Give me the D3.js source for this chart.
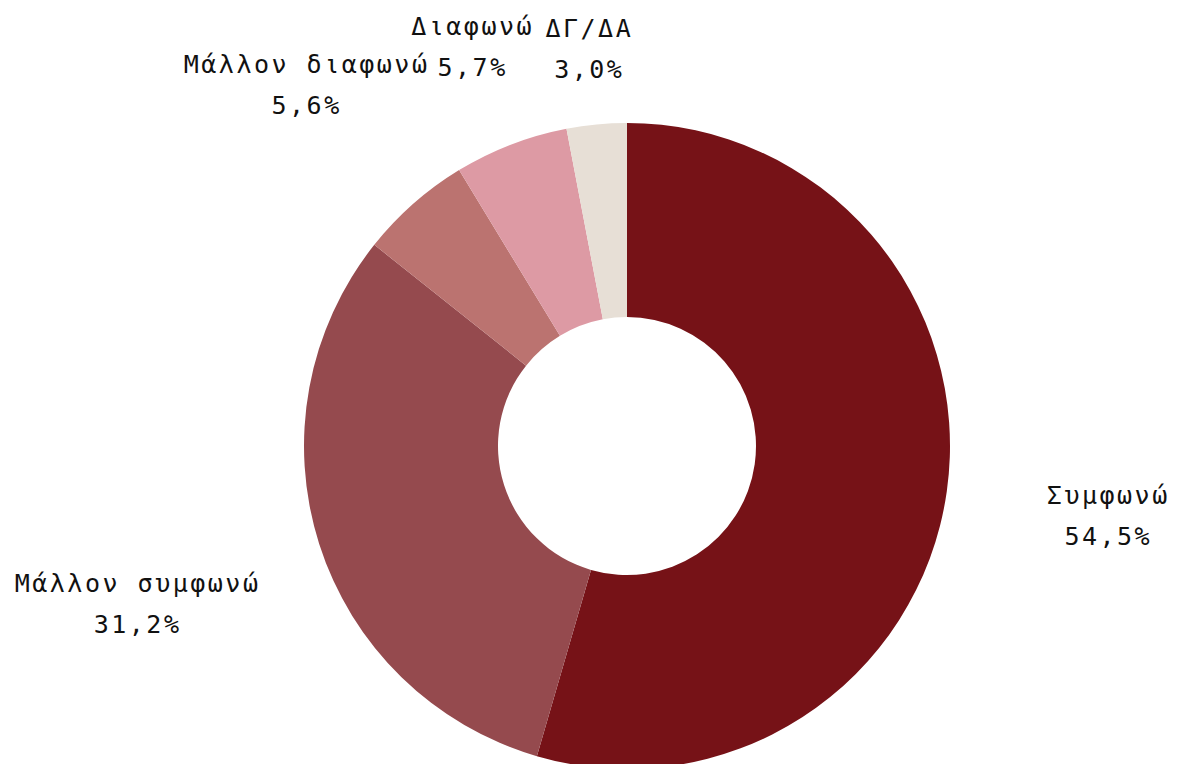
<!DOCTYPE html>
<html>
<head>
<meta charset="utf-8">
<script src="https://cdn.jsdelivr.net/npm/d3@7"></script>
<style>
  html, body { margin: 0; padding: 0; background: #ffffff; }
  svg { display: block; }
  text { font-family: "DejaVu Sans Mono", "Liberation Mono", monospace; font-size: 25px; fill: #111111; letter-spacing: 2.5px; }
</style>
</head>
<body>
<svg id="chart" width="1183" height="764"></svg>
<script>
// Data
const categories = ["Συμφωνώ", "Μάλλον συμφωνώ", "Μάλλον διαφωνώ", "Διαφωνώ", "ΔΓ/ΔΑ"];
const values = [54.5, 31.2, 5.6, 5.7, 3.0];
const valueLabels = ["54,5%", "31,2%", "5,6%", "5,7%", "3,0%"];

// Styling / layout
const colors = ["#761217", "#954a4e", "#bb7370", "#dd9aa4", "#e7dfd6"];
const labelRadiusFactor = [1.505, 1.59, 1.5, 1.33, 1.24];

const W = 1183, H = 764;
const cx = 627, cy = 446;
const outerR = 323, innerR = 129;

const svg = d3.select("#chart");
const g = svg.append("g").attr("transform", `translate(${cx},${cy})`);

const data = categories.map((c, i) => ({ cat: c, value: values[i], label: valueLabels[i], i }));

const pie = d3.pie().value(d => d.value).sort(null).startAngle(0).endAngle(2 * Math.PI);
const arcs = pie(data);

const arc = d3.arc().innerRadius(innerR).outerRadius(outerR);
const color = d3.scaleOrdinal().domain(categories).range(colors);

g.selectAll("path.slice")
  .data(arcs)
  .join("path")
  .attr("class", "slice")
  .attr("d", arc)
  .attr("fill", d => color(d.data.cat));

const labels = g.selectAll("g.lbl")
  .data(arcs)
  .join("g")
  .attr("class", "lbl")
  .attr("transform", d => {
    const a = (d.startAngle + d.endAngle) / 2;
    const r = outerR * labelRadiusFactor[d.data.i];
    return `translate(${r * Math.sin(a)},${-r * Math.cos(a)})`;
  });

labels.append("text")
  .attr("text-anchor", "middle")
  .attr("y", -10)
  .text(d => d.data.cat);

labels.append("text")
  .attr("text-anchor", "middle")
  .attr("y", 31)
  .text(d => d.data.label);
</script>
</body>
</html>
